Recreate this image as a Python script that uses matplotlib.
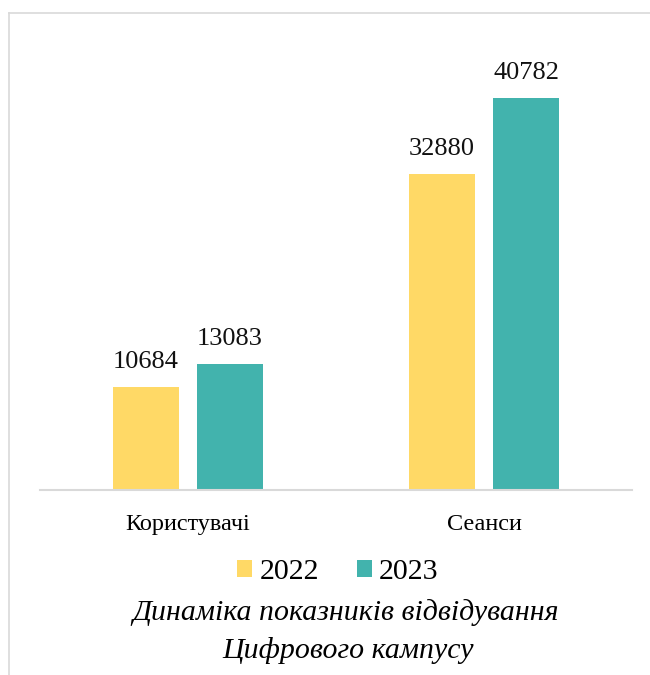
import matplotlib
matplotlib.use("Agg")
import matplotlib.pyplot as plt
import numpy as np
from matplotlib.lines import Line2D

# data
categories = ["Користувачі", "Сеанси"]
years = ["2022", "2023"]
values_2022 = [10684, 32880]
values_2023 = [13083, 40782]
colors = ["#FFD966", "#42B3AD"]
title_lines = ["Динаміка показників відвідування", "Цифрового кампусу"]

plt.rcParams['font.family'] = ['Liberation Serif', 'DejaVu Serif']

fig = plt.figure(figsize=(6.5, 6.75), dpi=100)
W, H = 650, 675

# outer frame (light gray, cut by the image edges)
fig.add_artist(Line2D([8.5 / W, 8.5 / W], [0, 1 - 12.5 / H], color="#d9d9d9", lw=1.2))
fig.add_artist(Line2D([8.5 / W, 1], [1 - 12.5 / H, 1 - 12.5 / H], color="#d9d9d9", lw=1.2))

ax = fig.add_axes([40 / W, (H - 490) / H, 592 / W, (490 - 57.5) / H])

x = np.arange(len(categories))
w = 0.223
off = 0.142
b1 = ax.bar(x - off, values_2022, w, color=colors[0], label=years[0])
b2 = ax.bar(x + off, values_2023, w, color=colors[1], label=years[1])

for bars in (b1, b2):
    for r in bars:
        ax.annotate(str(int(r.get_height())), (r.get_x() + r.get_width() / 2, r.get_height()),
                    xytext=(0, 10), textcoords="offset points", ha="center", va="bottom",
                    fontsize=19, color="#111111")

ax.set_xlim(-0.5, 1.5)
ax.set_ylim(0, 45000)
ax.set_yticks([])
ax.set_xticks(x)
ax.set_xticklabels(categories, fontsize=17.5)
ax.tick_params(axis="x", length=0, pad=17)
for s in ["top", "right", "left"]:
    ax.spines[s].set_visible(False)
ax.spines["bottom"].set_color("#d9d9d9")
ax.spines["bottom"].set_linewidth(1.5)

fig.legend(handles=[b1, b2], labels=years, loc="center", bbox_to_anchor=(338 / W, 1 - 572 / H),
           ncol=2, frameon=False, fontsize=21.5, handlelength=0.5, handleheight=0.5,
           handletextpad=0.25, columnspacing=1.25)

fig.text(346 / W, 1 - 613 / H, title_lines[0], ha="center", va="center", fontsize=21.5, style="italic")
fig.text(348 / W, 1 - 651 / H, title_lines[1], ha="center", va="center", fontsize=21.5, style="italic")

fig.savefig("out.png", dpi=100)
